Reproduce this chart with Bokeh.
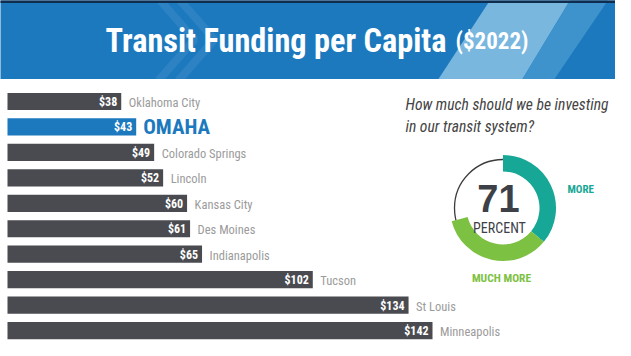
from bokeh.plotting import figure
from bokeh.models import Range1d, ColumnDataSource
from bokeh.core.properties import value
from bokeh.embed import file_html
from bokeh.resources import INLINE

# ---------------- data ----------------
cities = ["Oklahoma City", "OMAHA", "Colorado Springs", "Lincoln", "Kansas City",
          "Des Moines", "Indianapolis", "Tucson", "St Louis", "Minneapolis"]
funding = [38, 43, 49, 52, 60, 61, 65, 102, 134, 142]
value_labels = ["$" + str(v) for v in funding]
highlight = "OMAHA"

response_labels = ["MORE", "MUCH MORE"]
response_pct = [36, 35]
total_pct = sum(response_pct)

title_text = "Transit Funding per Capita"
subtitle_text = "($2022)"
question_lines = ["How much should we be investing", "in our transit system?"]
center_label = "PERCENT"

# ---------------- style ----------------
W, H = 615, 340
BLUE = "#1c79be"
DARK = "#4a4b50"
TEAL = "#17a796"
GREEN = "#7dc143"
GRAY = "#9b9b9b"
NARROW = "'Liberation Sans Narrow', 'Roboto Condensed', 'DejaVu Sans Condensed', sans-serif"
SANS = "'Liberation Sans', Arial, sans-serif"

X0, PXU = 7.0, 2.993         # pixel of value 0, pixels per dollar
Y0, ROW = 101.0, 25.45       # centre of first bar, row pitch

p = figure(width=W, height=H, output_backend="svg", toolbar_location=None,
           x_range=Range1d((0 - X0) / PXU, (W - X0) / PXU),
           y_range=Range1d((H - Y0) / ROW, (0 - Y0) / ROW),
           min_border=0, outline_line_color=None)
p.axis.visible = False
p.grid.visible = False
p.background_fill_color = "white"
p.border_fill_color = "white"

p.extra_x_ranges = {"px": Range1d(0, W)}
p.extra_y_ranges = {"py": Range1d(0, H)}


def U(y):
    return H - y


PX = dict(x_range_name="px", y_range_name="py")

# ---------------- header ----------------
p.quad(left=-5, right=W + 5, top=U(-2), bottom=U(78.5), fill_color=BLUE, line_color=None, **PX)
p.patch(x=[490, 570, 522, 438], y=[U(-1), U(-1), U(78.5), U(78.5)],
        fill_color="#79b7df", line_color=None, **PX)
p.patch(x=[570, 608, 554, 522], y=[U(-1), U(-1), U(78.5), U(78.5)],
        fill_color="#3f93cd", line_color=None, **PX)
for dx in (0, 20):
    p.line(x=[158 + dx, 194 + dx, 158 + dx], y=[U(-2), U(39), U(80)],
           line_color="white", line_alpha=0.07, line_width=8, **PX)
p.quad(left=-5, right=W + 5, top=U(-2), bottom=U(2.5), fill_color="#0f2d4f",
       line_color=None, **PX)

p.text(x=[105], y=[U(40)], text=[title_text], text_font=value(NARROW),
       text_font_style="bold", text_font_size="32.3px", text_color="white",
       text_baseline="middle", text_align="left", **PX)
p.text(x=[455], y=[U(41)], text=[subtitle_text], text_font=value(NARROW),
       text_font_style="bold", text_font_size="23px", text_color="white",
       text_baseline="middle", text_align="left", **PX)

# ---------------- bars ----------------
idx = list(range(len(cities)))
bar_colors = [BLUE if c == highlight else DARK for c in cities]
src = ColumnDataSource(dict(y=idx, v=funding, lab=value_labels, city=cities, color=bar_colors))
p.hbar(y="y", left=0, right="v", height=0.675, fill_color="color", line_color=None, source=src)
p.text(x="v", y="y", text="lab", source=src, x_offset=-4, y_offset=0.5,
       text_align="right", text_baseline="middle", text_color="white",
       text_font=value(NARROW), text_font_style="bold", text_font_size="12px")

oth = [i for i, c in enumerate(cities) if c != highlight]
hi = [i for i, c in enumerate(cities) if c == highlight]
p.text(x=[funding[i] for i in oth], y=oth, text=[cities[i] for i in oth],
       x_offset=7.5, y_offset=1, text_align="left", text_baseline="middle",
       text_color=GRAY, text_font=value(NARROW), text_font_size="12.5px")
p.text(x=[funding[i] for i in hi], y=hi, text=[cities[i] for i in hi],
       x_offset=7, y_offset=0, text_align="left", text_baseline="middle",
       text_color=BLUE, text_font=value(NARROW), text_font_style="bold",
       text_font_size="21px")

# ---------------- question ----------------
for line, mid in zip(question_lines, [104.2, 126.2]):
    p.text(x=[405], y=[U(mid)], text=[line], text_font=value(NARROW),
           text_font_style="italic", text_font_size="15.6px", text_color="#444444",
           text_baseline="middle", text_align="left", **PX)

# ---------------- donut ----------------
CX, CY = 502.5, 207.5
R_OUT, R_IN, R_LINE = 53, 36.5, 48.5
p.circle(x=[CX], y=[U(CY)], radius=R_LINE, fill_color=None, line_color="#3c3c3c",
         line_width=1.3, **PX)
seg_colors = [TEAL, GREEN]
starts, ends = [], []
acc = 0.0
for pct in response_pct:
    ends.append(90 - 3.6 * acc)
    acc += pct
    starts.append(90 - 3.6 * acc)
p.annular_wedge(x=[CX] * 2, y=[U(CY)] * 2, inner_radius=R_IN, outer_radius=R_OUT,
                start_angle=starts, end_angle=ends, start_angle_units="deg",
                end_angle_units="deg", fill_color=seg_colors, line_color=None, **PX)

p.text(x=[498], y=[U(198)], text=[str(total_pct)], text_font=value(SANS),
       text_font_style="bold", text_font_size="38px", text_color="#3d4046",
       text_baseline="middle", text_align="center", **PX)
p.text(x=[499], y=[U(227.5)], text=[center_label], text_font=value(NARROW),
       text_font_size="14px", text_color="#3d4046",
       text_baseline="middle", text_align="center", **PX)
p.text(x=[567], y=[U(189)], text=[response_labels[0]], text_font=value(NARROW),
       text_font_style="bold", text_font_size="11px", text_color=TEAL,
       text_baseline="middle", text_align="left", **PX)
p.text(x=[501], y=[U(277.5)], text=[response_labels[1]], text_font=value(NARROW),
       text_font_style="bold", text_font_size="11.5px", text_color=GREEN,
       text_baseline="middle", text_align="center", **PX)

open("out.html", "w").write(file_html(p, INLINE))
